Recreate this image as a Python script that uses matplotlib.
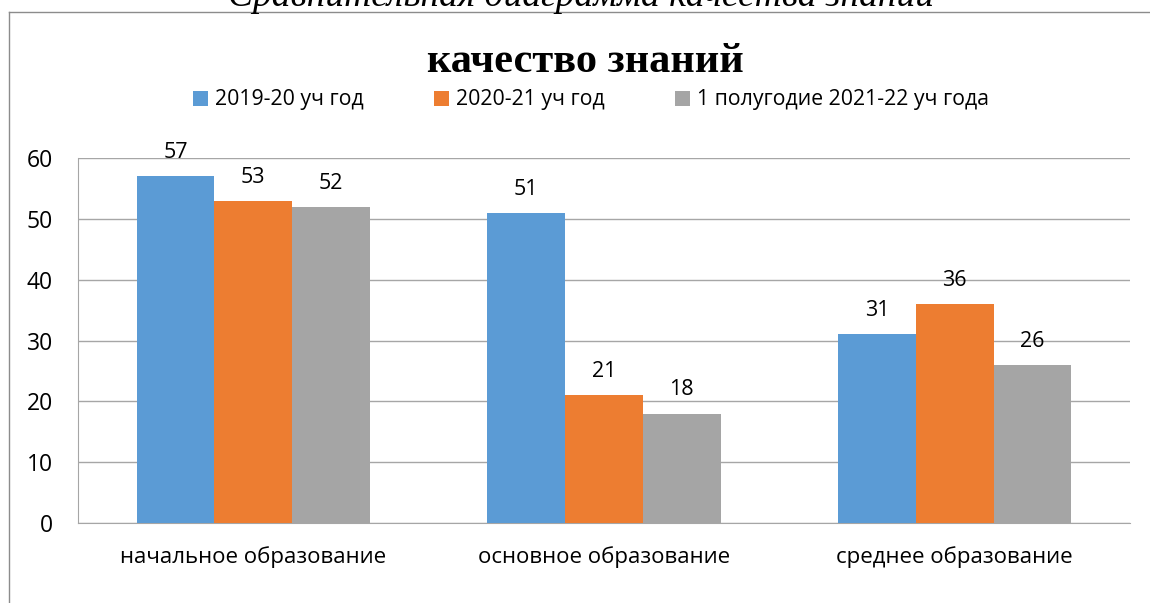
import numpy as np
import matplotlib.pyplot as plt
from matplotlib.lines import Line2D

# data
categories = ['начальное образование', 'основное образование', 'среднее образование']
series_names = ['2019-20 уч год', '2020-21 уч год', '1 полугодие 2021-22 уч года']
vals_2019 = [57, 51, 31]
vals_2020 = [53, 21, 36]
vals_2021 = [52, 18, 26]
colors = ['#5B9BD5', '#ED7D31', '#A5A5A5']

plt.rcParams['font.family'] = ['Open Sans', 'DejaVu Sans']

fig = plt.figure(figsize=(11.5, 6.03), dpi=100)
ax = fig.add_axes([78 / 1150, 1 - 523 / 603, (1130 - 78) / 1150, (523 - 158) / 603])

x = np.arange(len(categories))
w = 0.222
for i, (vals, name) in enumerate(zip([vals_2019, vals_2020, vals_2021], series_names)):
    bars = ax.bar(x + (i - 1) * w, vals, width=w, color=colors[i], label=name, zorder=3)
    for b, v in zip(bars, vals):
        ax.annotate(str(v), (b.get_x() + b.get_width() / 2, v), xytext=(0, 13),
                    textcoords='offset points', ha='center', va='baseline', fontsize=15.5)

ax.set_xlim(-0.5, 2.5)
ax.set_ylim(0, 60)
ax.set_yticks(range(0, 61, 10))
ax.set_xticks(x)
ax.set_xticklabels(categories, fontsize=16)
ax.tick_params(axis='y', length=0, pad=18, labelsize=16.5)
ax.tick_params(axis='x', length=0, pad=17)
ax.yaxis.grid(True, color='#a6a6a6', linewidth=1, zorder=0)
for s in ['top', 'right']:
    ax.spines[s].set_visible(False)
ax.spines['left'].set_color('#a6a6a6')
ax.spines['bottom'].set_color('#a6a6a6')

# chart title and legend
fig.text(585 / 1150, 1 - 72 / 603, 'качество знаний', ha='center', va='baseline',
         fontsize=30.5, fontweight='bold', family='Liberation Serif')
fig.legend(loc='center', bbox_to_anchor=(591 / 1150, 1 - 100 / 603), ncol=3, frameon=False,
           fontsize=15.3, handlelength=0.7, handleheight=0.7, columnspacing=3.3,
           handletextpad=0.33, borderpad=0, borderaxespad=0)

# cut-off caption at top
fig.text(581 / 1150, 1 - 6 / 603, 'Сравнительная диаграмма качества знаний', ha='center', va='baseline',
         fontsize=27, style='italic', family='Liberation Serif')

# chart border
fig.add_artist(Line2D([9 / 1150, 9 / 1150], [0, 1 - 12 / 603], color='#8c8c8c', lw=1))
fig.add_artist(Line2D([9 / 1150, 1], [1 - 12 / 603, 1 - 12 / 603], color='#8c8c8c', lw=1))

fig.savefig('out.png', dpi=100)
